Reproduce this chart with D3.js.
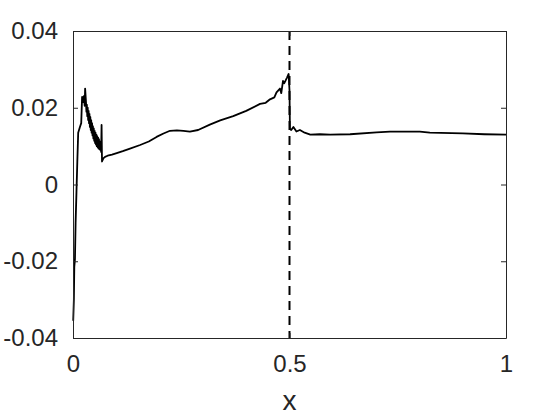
<!DOCTYPE html>
<html>
<head>
<meta charset="utf-8">
<script src="https://cdn.jsdelivr.net/npm/d3@7"></script>
<style>
html,body{margin:0;padding:0;background:#fff;}
svg{display:block;}
</style>
</head>
<body>
<svg id="chart" width="560" height="420"></svg>
<script>
const xValues = [0.0005,0.002,0.003,0.0045,0.006,0.008,0.010,0.012,0.016,0.019,0.021,0.023,0.025,0.027,0.028,
0.030,0.031,0.032,0.033,0.034,0.035,0.036,0.037,0.038,0.039,0.040,0.041,0.042,0.043,0.044,0.045,0.046,0.047,0.048,0.049,
0.050,0.051,0.052,0.053,0.054,0.055,0.056,0.057,0.058,0.059,0.060,0.061,0.062,0.063,0.064,0.065,0.066,0.067,
0.070,0.074,0.080,0.090,0.101,0.115,0.130,0.155,0.175,0.193,0.209,0.224,0.240,0.255,0.270,0.289,0.316,0.340,0.370,0.400,0.432,
0.445,0.455,0.465,0.470,0.478,0.481,0.485,0.488,0.494,0.498,0.500,0.501,0.504,0.509,0.516,0.524,0.535,0.548,0.570,0.594,0.640,0.701,0.732,0.801,0.824,0.900,0.950,1.000];
const yValues = [-0.0355,-0.030,-0.0215,-0.0195,-0.010,-0.002,0.006,0.0135,0.0150,0.0160,0.0228,0.0215,0.0230,0.0205,0.0250,
0.0215,0.0190,0.0208,0.0178,0.0200,0.0168,0.0192,0.0160,0.0184,0.0150,0.0176,0.0142,0.0168,0.0135,0.0160,0.0128,0.0152,0.0120,0.0146,0.0114,
0.0140,0.0108,0.0135,0.0104,0.0130,0.0100,0.0126,0.0097,0.0122,0.0094,0.0118,0.0092,0.0112,0.0090,0.0100,0.0085,0.0155,0.0060,
0.0068,0.0072,0.0075,0.0078,0.0082,0.0087,0.0093,0.0103,0.0112,0.0124,0.0133,0.0140,0.0141,0.0140,0.0138,0.0142,0.0156,0.0167,0.0178,0.0192,0.0210,
0.0213,0.0222,0.0227,0.0240,0.0250,0.0238,0.0270,0.0264,0.0278,0.0288,0.0245,0.0145,0.0142,0.0150,0.0138,0.0142,0.0135,0.0130,0.0131,0.0130,0.0131,0.0136,0.0138,0.0138,0.0135,0.0133,0.0131,0.0130];
const xTicks = [0, 0.5, 1];
const xTickLabels = ["0", "0.5", "1"];
const yTicks = [-0.04, -0.02, 0, 0.02, 0.04];
const yTickLabels = ["-0.04", "-0.02", "0", "0.02", "0.04"];
const dashedX = [0.5];
const xLabel = "x";

const svg = d3.select("#chart");
const mLeft = 73, mRight = 506, mTop = 31, mBottom = 338;
const x = d3.scaleLinear().domain([0, 1]).range([mLeft, mRight]);
const y = d3.scaleLinear().domain([-0.04, 0.04]).range([mBottom, mTop]);
const axisColor = "#262626";
const font = "'Liberation Sans', Arial, Helvetica, sans-serif";

// data line
const pts = xValues.map((d, i) => [d, yValues[i]]);
svg.append("path")
  .datum(pts)
  .attr("fill", "none")
  .attr("stroke", "#000")
  .attr("stroke-width", 1.8)
  .attr("stroke-linejoin", "round")
  .attr("d", d3.line().x(d => x(d[0])).y(d => y(d[1])));

// dashed vertical line
svg.selectAll(".vline").data(dashedX).enter().append("line")
  .attr("x1", d => x(d)).attr("x2", d => x(d))
  .attr("y1", y(0.04)).attr("y2", y(-0.04))
  .attr("stroke", "#000").attr("stroke-width", 2)
  .attr("stroke-dasharray", "9,6");

// axes (inward ticks)
const tl = 5;
const bottomAxis = d3.axisBottom(x).tickValues(xTicks).tickFormat((d, i) => xTickLabels[i]).tickSizeInner(-tl).tickSizeOuter(0).tickPadding(17);
const topAxis = d3.axisTop(x).tickValues(xTicks).tickFormat("").tickSizeInner(-tl).tickSizeOuter(0);
const leftAxis = d3.axisLeft(y).tickValues(yTicks).tickFormat((d, i) => yTickLabels[i]).tickSizeInner(-tl).tickSizeOuter(0).tickPadding(15);
const rightAxis = d3.axisRight(y).tickValues(yTicks).tickFormat("").tickSizeInner(-tl).tickSizeOuter(0);

function style(g) {
  g.select(".domain").attr("stroke", axisColor).attr("stroke-width", 1);
  g.selectAll(".tick line").attr("stroke", axisColor).attr("stroke-width", 1);
  g.selectAll(".tick text").attr("fill", axisColor).style("font-family", font).style("font-size", "24px");
}
svg.append("g").attr("transform", `translate(0,${mBottom})`).call(bottomAxis).call(style);
svg.append("g").attr("transform", `translate(0,${mTop})`).call(topAxis).call(style);
svg.append("g").attr("transform", `translate(${mLeft},0)`).call(leftAxis).call(style);
svg.append("g").attr("transform", `translate(${mRight},0)`).call(rightAxis).call(style);

svg.append("text")
  .attr("x", x(0.5)).attr("y", 410)
  .attr("text-anchor", "middle")
  .attr("fill", axisColor)
  .style("font-family", font).style("font-size", "28px")
  .text(xLabel);
</script>
</body>
</html>
